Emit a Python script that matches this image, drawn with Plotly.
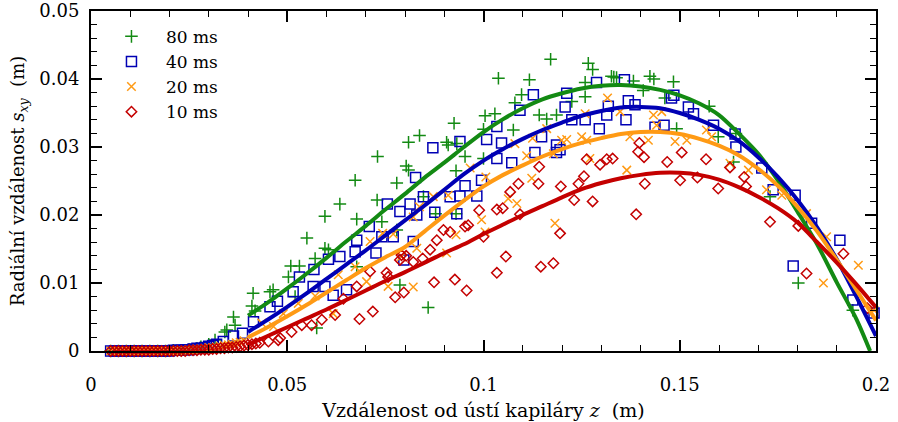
import plotly.graph_objects as go

# ---------------------------------------------------------------------------
# Measured radial distance s_xy versus distance z from the capillary mouth
# for four pulse lengths, plus the fitted trend curves.
# ---------------------------------------------------------------------------
labels = ["80 ms", "40 ms", "20 ms", "10 ms"]
colors = ["#138a13", "#0000b4", "#ff9a14", "#c40000"]

# --- 80 ms --------------------------------------------------------------
z80 = [0.005, 0.007, 0.009, 0.011, 0.013, 0.015, 0.017, 0.019, 0.021, 0.023,
       0.025, 0.027, 0.028, 0.030, 0.0316, 0.0341, 0.0346, 0.0363, 0.0367,
       0.0410, 0.0418, 0.0413, 0.0456, 0.0464, 0.0503, 0.0509, 0.0531, 0.0520,
       0.0550, 0.0571, 0.0575, 0.0596, 0.0605, 0.0596, 0.0634, 0.0673, 0.0677,
       0.0677, 0.0729, 0.0730, 0.0741, 0.0779, 0.0779, 0.0787, 0.0803, 0.0809,
       0.0809, 0.0837, 0.0847, 0.0859, 0.0878, 0.0906, 0.0910, 0.0925, 0.0930,
       0.0930, 0.0932, 0.0953, 0.1000, 0.1000, 0.1004, 0.1029, 0.1038, 0.1076,
       0.1080, 0.1097, 0.1117, 0.1142, 0.1161, 0.1171, 0.1186, 0.1225, 0.1259,
       0.1259, 0.1267, 0.1278, 0.1326, 0.1332, 0.1339, 0.1382, 0.1407, 0.1424,
       0.1434, 0.1462, 0.1484, 0.1492, 0.1575, 0.1598, 0.1643, 0.1637, 0.1730,
       0.1802, 0.1941]
s80 = [0.0000, 0.0000, 0.0000, 0.0000, 0.0000, 0.0000, 0.0000, 0.0000, 0.0001, 0.0001,
       0.0002, 0.0004, 0.0006, 0.0010, 0.0016, 0.0028, 0.0031, 0.0050, 0.0038,
       0.0066, 0.0059, 0.0085, 0.0087, 0.0090, 0.0109, 0.0125, 0.0125, 0.0080,
       0.0166, 0.0136, 0.0034, 0.0151, 0.0149, 0.0198, 0.0216, 0.0251, 0.0194,
       0.0124, 0.0222, 0.0286, 0.0190, 0.0247, 0.0178, 0.0097, 0.0272, 0.0266,
       0.0307, 0.0317, 0.0227, 0.0064, 0.0202, 0.0307, 0.0303, 0.0335, 0.0265,
       0.0202, 0.0305, 0.0286, 0.0326, 0.0283, 0.0346, 0.0349, 0.0401, 0.0325,
       0.0365, 0.0377, 0.0399, 0.0347, 0.0341, 0.0429, 0.0347, 0.0367, 0.0395,
       0.0374, 0.0423, 0.0414, 0.0404, 0.0403, 0.0402, 0.0397, 0.0383, 0.0404,
       0.0400, 0.0372, 0.0396, 0.0327, 0.0360, 0.0315, 0.0320, 0.0278, 0.0227,
       0.0100, 0.0060]

# --- 40 ms --------------------------------------------------------------
z40 = [0.005, 0.006, 0.007, 0.008, 0.009, 0.010, 0.011, 0.012, 0.013, 0.014,
       0.015, 0.016, 0.017, 0.018, 0.019, 0.020, 0.021, 0.022, 0.023, 0.024,
       0.025, 0.026, 0.027, 0.028, 0.029, 0.030, 0.031, 0.032,
       0.0337, 0.0363, 0.0386, 0.0414, 0.0456, 0.0475, 0.0515, 0.0531, 0.0566,
       0.0568, 0.0596, 0.0605, 0.0617, 0.0634, 0.0651, 0.0673, 0.0677, 0.0709,
       0.0726, 0.0741, 0.0755, 0.0770, 0.0787, 0.0797, 0.0813, 0.0821, 0.0827,
       0.0830, 0.0847, 0.0871, 0.0876, 0.0915, 0.0932, 0.0940, 0.0940, 0.0953,
       0.0983, 0.0995, 0.1008, 0.1034, 0.1034, 0.1046, 0.1072, 0.1093, 0.1127,
       0.1131, 0.1148, 0.1186, 0.1186, 0.1195, 0.1208, 0.1212, 0.1225, 0.1259,
       0.1288, 0.1295, 0.1314, 0.1318, 0.1359, 0.1363, 0.1369, 0.1386, 0.1437,
       0.1460, 0.1479, 0.1485, 0.1522, 0.1535, 0.1586, 0.1641, 0.1643, 0.1709,
       0.1738, 0.1789, 0.1794, 0.1836, 0.1908, 0.1941, 0.1995]
s40 = [0.0000, 0.0000, 0.0000, 0.0000, 0.0000, 0.0000, 0.0000, 0.0000, 0.0000, 0.0000,
       0.0000, 0.0000, 0.0000, 0.0000, 0.0000, 0.0000, 0.0001, 0.0001, 0.0001, 0.0002,
       0.0002, 0.0003, 0.0004, 0.0004, 0.0005, 0.0007, 0.0008, 0.0010,
       0.0014, 0.0022, 0.0026, 0.0043, 0.0065, 0.0073, 0.0087, 0.0109, 0.0095,
       0.0120, 0.0095, 0.0135, 0.0082, 0.0139, 0.0090, 0.0146, 0.0163, 0.0183,
       0.0144, 0.0168, 0.0216, 0.0168, 0.0205, 0.0134, 0.0216, 0.0161, 0.0255,
       0.0200, 0.0227, 0.0299, 0.0204, 0.0227, 0.0202, 0.0228, 0.0308, 0.0243,
       0.0228, 0.0251, 0.0311, 0.0330, 0.0283, 0.0306, 0.0277, 0.0354, 0.0377,
       0.0292, 0.0315, 0.0303, 0.0292, 0.0296, 0.0359, 0.0379, 0.0340, 0.0340,
       0.0395, 0.0327, 0.0347, 0.0360, 0.0399, 0.0340, 0.0368, 0.0362, 0.0329,
       0.0332, 0.0372, 0.0376, 0.0359, 0.0349, 0.0332, 0.0319, 0.0300, 0.0269,
       0.0237, 0.0125, 0.0229, 0.0188, 0.0163, 0.0075, 0.0056]

# --- 20 ms --------------------------------------------------------------
z20 = [0.005, 0.006, 0.007, 0.008, 0.009, 0.010, 0.011, 0.012, 0.013, 0.014,
       0.015, 0.016, 0.017, 0.018, 0.019, 0.020, 0.021, 0.022, 0.023, 0.024,
       0.025, 0.026, 0.027, 0.028, 0.029, 0.030, 0.031, 0.032, 0.033, 0.034,
       0.035, 0.036, 0.037, 0.038, 0.039,
       0.0435, 0.0465, 0.0490, 0.0528, 0.0571, 0.0617, 0.0630, 0.0673, 0.0702,
       0.0711, 0.0743, 0.0757, 0.0770, 0.0791, 0.0821, 0.0821, 0.0830, 0.0837,
       0.0872, 0.0906, 0.0910, 0.0930, 0.0966, 0.0995, 0.1004, 0.1006, 0.1063,
       0.1080, 0.1085, 0.1110, 0.1123, 0.1125, 0.1161, 0.1178, 0.1182, 0.1199,
       0.1212, 0.1250, 0.1259, 0.1263, 0.1271, 0.1316, 0.1348, 0.1365, 0.1373,
       0.1420, 0.1433, 0.1441, 0.1454, 0.1488, 0.1518, 0.1568, 0.1581, 0.1628,
       0.1675, 0.1721, 0.1760, 0.1823, 0.1866, 0.1874, 0.1955, 0.1995]
s20 = [0.0000, 0.0000, 0.0000, 0.0000, 0.0000, 0.0000, 0.0000, 0.0000, 0.0000, 0.0000,
       0.0000, 0.0000, 0.0000, 0.0000, 0.0000, 0.0000, 0.0000, 0.0001, 0.0001, 0.0001,
       0.0002, 0.0002, 0.0003, 0.0003, 0.0004, 0.0005, 0.0005, 0.0006, 0.0007, 0.0008,
       0.0009, 0.0010, 0.0012, 0.0013, 0.0015,
       0.0041, 0.0036, 0.0055, 0.0070, 0.0081, 0.0055, 0.0112, 0.0124, 0.0102,
       0.0161, 0.0173, 0.0095, 0.0172, 0.0139, 0.0197, 0.0094, 0.0151, 0.0212,
       0.0227, 0.0144, 0.0229, 0.0171, 0.0269, 0.0193, 0.0175, 0.0256, 0.0224,
       0.0305, 0.0217, 0.0287, 0.0254, 0.0313, 0.0327, 0.0290, 0.0188, 0.0310,
       0.0311, 0.0315, 0.0349, 0.0310, 0.0283, 0.0372, 0.0352, 0.0266, 0.0315,
       0.0310, 0.0347, 0.0332, 0.0352, 0.0308, 0.0310, 0.0325, 0.0315, 0.0276,
       0.0266, 0.0237, 0.0229, 0.0202, 0.0100, 0.0168, 0.0126, 0.0060]

# --- 10 ms --------------------------------------------------------------
z10 = [0.005, 0.006, 0.007, 0.008, 0.009, 0.010, 0.011, 0.012, 0.013, 0.014,
       0.015, 0.016, 0.017, 0.018, 0.019, 0.020, 0.021, 0.022, 0.023, 0.024,
       0.025, 0.026, 0.027, 0.028, 0.029, 0.030, 0.031, 0.032, 0.033, 0.034,
       0.035, 0.036, 0.037, 0.038, 0.039, 0.040, 0.041, 0.042, 0.043,
       0.0452, 0.0477, 0.0482, 0.0511, 0.0537, 0.0562, 0.0588, 0.0622, 0.0643,
       0.0677, 0.0684, 0.0711, 0.0718, 0.0753, 0.0757, 0.0775, 0.0787, 0.0791,
       0.0797, 0.0803, 0.0821, 0.0845, 0.0864, 0.0874, 0.0881, 0.0898, 0.0915,
       0.0927, 0.0953, 0.0957, 0.0961, 0.0989, 0.1000, 0.1034, 0.1034, 0.1049,
       0.1057, 0.1068, 0.1089, 0.1093, 0.1140, 0.1142, 0.1146, 0.1178, 0.1195,
       0.1197, 0.1231, 0.1242, 0.1256, 0.1263, 0.1278, 0.1297, 0.1314, 0.1329,
       0.1389, 0.1394, 0.1397, 0.1409, 0.1411, 0.1468, 0.1501, 0.1505, 0.1545,
       0.1567, 0.1598, 0.1628, 0.1664, 0.1669, 0.1730, 0.1802, 0.1823, 0.1917,
       0.1978]
s10 = [0.0000, 0.0000, 0.0000, 0.0000, 0.0000, 0.0000, 0.0000, 0.0000, 0.0000, 0.0000,
       0.0000, 0.0000, 0.0000, 0.0000, 0.0000, 0.0000, 0.0000, 0.0000, 0.0000, 0.0000,
       0.0001, 0.0001, 0.0001, 0.0002, 0.0002, 0.0002, 0.0003, 0.0003, 0.0004, 0.0004,
       0.0005, 0.0005, 0.0006, 0.0007, 0.0008, 0.0009, 0.0010, 0.0011, 0.0012,
       0.0014, 0.0016, 0.0019, 0.0028, 0.0038, 0.0038, 0.0046, 0.0053, 0.0077,
       0.0095, 0.0047, 0.0117, 0.0058, 0.0115, 0.0109, 0.0079, 0.0134, 0.0141,
       0.0086, 0.0140, 0.0131, 0.0136, 0.0149, 0.0101, 0.0163, 0.0178, 0.0175,
       0.0105, 0.0183, 0.0089, 0.0185, 0.0207, 0.0168, 0.0208, 0.0115, 0.0210,
       0.0139, 0.0234, 0.0246, 0.0201, 0.0246, 0.0271, 0.0124, 0.0129, 0.0173,
       0.0242, 0.0222, 0.0246, 0.0257, 0.0282, 0.0220, 0.0274, 0.0282, 0.0283,
       0.0201, 0.0293, 0.0306, 0.0285, 0.0246, 0.0278, 0.0251, 0.0292, 0.0255,
       0.0282, 0.0239, 0.0270, 0.0256, 0.0242, 0.0190, 0.0184, 0.0114, 0.0143,
       0.0063]

# --- fitted curves ------------------------------------------------------
fit_z = [0.040, 0.045, 0.050, 0.055, 0.060, 0.065, 0.070, 0.075, 0.080, 0.085,
         0.090, 0.095, 0.100, 0.105, 0.110, 0.115, 0.120, 0.125, 0.130, 0.135,
         0.140, 0.145, 0.150, 0.155, 0.160, 0.165, 0.170, 0.175, 0.180, 0.185,
         0.190, 0.195, 0.1985]
fit80 = [0.0052, 0.0071, 0.0092, 0.0114, 0.0137, 0.0161, 0.0184, 0.0208, 0.0231, 0.0255,
         0.0277, 0.0300, 0.0322, 0.0341, 0.0357, 0.0370, 0.0379, 0.0386, 0.0390, 0.0391,
         0.0389, 0.0384, 0.0376, 0.0364, 0.0347, 0.0320, 0.0290, 0.0251, 0.0205, 0.0157,
         0.0101, 0.0047, 0.0000]
fit_z2 = [0.040, 0.045, 0.050, 0.055, 0.060, 0.065, 0.070, 0.075, 0.080, 0.085,
          0.090, 0.095, 0.100, 0.105, 0.110, 0.115, 0.120, 0.125, 0.130, 0.135,
          0.140, 0.145, 0.150, 0.155, 0.160, 0.165, 0.170, 0.175, 0.180, 0.185,
          0.190, 0.195, 0.200]
fit40 = [0.0028, 0.0046, 0.0065, 0.0085, 0.0106, 0.0127, 0.0148, 0.0170, 0.0192, 0.0214,
         0.0237, 0.0260, 0.0280, 0.0297, 0.0312, 0.0325, 0.0336, 0.0346, 0.0353, 0.0358,
         0.0359, 0.0357, 0.0350, 0.0340, 0.0327, 0.0309, 0.0285, 0.0256, 0.0222, 0.0182,
         0.0135, 0.0080, 0.0022]
fit20 = [0.0020, 0.0035, 0.0051, 0.0068, 0.0086, 0.0104, 0.0122, 0.0138, 0.0153, 0.0176,
         0.0199, 0.0221, 0.0242, 0.0259, 0.0273, 0.0286, 0.0297, 0.0306, 0.0313, 0.0319,
         0.0322, 0.0322, 0.0319, 0.0312, 0.0302, 0.0288, 0.0268, 0.0243, 0.0212, 0.0176,
         0.0134, 0.0090, 0.0045]
fit10 = [0.0009, 0.0022, 0.0035, 0.0048, 0.0061, 0.0075, 0.0089, 0.0103, 0.0116, 0.0130,
         0.0144, 0.0157, 0.0172, 0.0186, 0.0200, 0.0213, 0.0226, 0.0238, 0.0247, 0.0254,
         0.0259, 0.0262, 0.0262, 0.0259, 0.0252, 0.0241, 0.0227, 0.0210, 0.0189, 0.0160,
         0.0130, 0.0098, 0.0064]

# --- axis ticks ---------------------------------------------------------
x_ticks = [0, 0.05, 0.1, 0.15, 0.2]
x_ticktext = ["0", "0.05", "0.1", "0.15", "0.2"]
y_ticks = [0, 0.01, 0.02, 0.03, 0.04, 0.05]
y_ticktext = ["0", "0.01", "0.02", "0.03", "0.04", "0.05"]

FONT = "DejaVu Serif"

series = [
    (z80, s80, "cross-thin", 9),
    (z40, s40, "square-open", 10),
    (z20, s20, "x-thin", 8.5),
    (z10, s10, "diamond-open", 8),
]
fits = [(fit_z, fit80), (fit_z2, fit40), (fit_z2, fit20), (fit_z2, fit10)]

fig = go.Figure()

for (zs, ss, sym, size), name, col in zip(series, labels, colors):
    fig.add_trace(go.Scatter(
        x=zs, y=ss, mode="markers", name=name,
        cliponaxis=False,
        marker=dict(symbol=sym, size=size, color=col,
                    line=dict(color=col, width=1.5)),
    ))

for (fz, fs), col in zip(fits, colors):
    fig.add_trace(go.Scatter(
        x=fz, y=fs, mode="lines", showlegend=False, hoverinfo="skip",
        line=dict(color=col, width=4, shape="spline", smoothing=0.8),
    ))

axis_common = dict(
    showline=True, linecolor="black", linewidth=2, mirror="ticks",
    ticks="inside", ticklen=11, tickwidth=1.6, tickcolor="black",
    showgrid=False, zeroline=False, automargin=False,
    tickfont=dict(family=FONT, size=18, color="black"),
)

fig.update_xaxes(
    range=[0, 0.2], tickvals=x_ticks, ticktext=x_ticktext,
    minor=dict(ticks="inside", ticklen=6, tickwidth=1.4, dtick=0.01,
               tickcolor="black", showgrid=False),
    ticklabelstandoff=16,
    title=dict(text="Vzdálenost od ústí kapiláry <i>z</i>  (m)",
               font=dict(family=FONT, size=19, color="black"), standoff=10),
    **axis_common,
)
fig.update_yaxes(
    range=[0, 0.05], tickvals=y_ticks, ticktext=y_ticktext,
    minor=dict(ticks="inside", ticklen=6, tickwidth=1.4, dtick=0.002,
               tickcolor="black", showgrid=False),
    ticklabelstandoff=6,
    title=dict(text="Radiální vzdálenost <i>s</i><sub><i>xy</i></sub>  (m)",
               font=dict(family=FONT, size=18, color="black"), standoff=10),
    **axis_common,
)

fig.update_layout(
    width=898, height=422,
    margin=dict(l=91, r=22, t=11, b=71),
    paper_bgcolor="white", plot_bgcolor="white",
    font=dict(family=FONT, size=17, color="black"),
    legend=dict(x=0.0076, y=0.977, xanchor="left", yanchor="top",
                bgcolor="rgba(0,0,0,0)", borderwidth=0, itemwidth=59,
                tracegroupgap=0,
                font=dict(family=FONT, size=17, color="black")),
)

fig.write_html("out.html")
